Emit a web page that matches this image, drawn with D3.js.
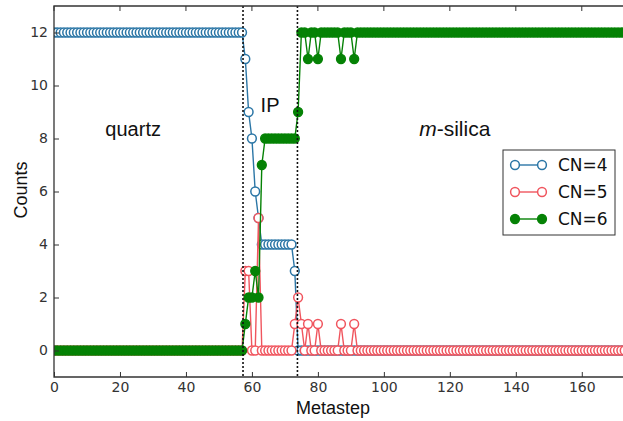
<!DOCTYPE html>
<html>
<head>
<meta charset="utf-8">
<script src="https://cdn.jsdelivr.net/npm/d3@7"></script>
<style>
  body { margin: 0; background: #fff; }
</style>
</head>
<body>
<svg id="canvas" width="623" height="421"></svg>
<script>
const svg = d3.select("#canvas");

// each run is [fromStep, toStep, count]
const cn4Runs = [[0, 57, 12], [58, 58, 11], [59, 59, 9], [60, 60, 8], [61, 61, 6], [62, 62, 5],
    [63, 72, 4], [73, 73, 3], [74, 173, 0]];
const cn5Runs = [[0, 57, 0], [58, 59, 3], [60, 61, 0], [62, 62, 5], [63, 72, 0], [73, 73, 1],
    [74, 74, 2], [75, 75, 1], [76, 76, 0], [77, 77, 1], [78, 79, 0], [80, 80, 1], [81, 86, 0],
    [87, 87, 1], [88, 90, 0], [91, 91, 1], [92, 173, 0]];
const cn6Runs = [[0, 57, 0], [58, 58, 1], [59, 60, 2], [61, 61, 3], [62, 62, 2], [63, 63, 7],
    [64, 73, 8], [74, 74, 9], [75, 76, 12], [77, 77, 11], [78, 79, 12], [80, 80, 11], [81, 86, 12],
    [87, 87, 11], [88, 90, 12], [91, 91, 11], [92, 173, 12]];

const seriesNames = ["CN=4", "CN=5", "CN=6"];
const xTicks = [0, 20, 40, 60, 80, 100, 120, 140, 160];
const yTicks = [0, 2, 4, 6, 8, 10, 12];
const boundaries = [57.3, 73.8];
const phaseLabels = [
    { text: "quartz", step: 24, count: 8.1 },
    { text: "IP", step: 65.5, count: 9.0 },
    { text: "-silica", prefix: "m", step: 121.5, count: 8.1 }
];

const colors = {
    "CN=4": "#2b76a6",
    "CN=5": "#f0555e",
    "CN=6": "#058205"
};

const plotLeft = 54, plotRight = 625, plotTop = 6, plotBottom = 377;
const markerR = 4.4;

const x = d3.scaleLinear().domain([0, 173.1]).range([plotLeft, plotRight]);
const y = d3.scaleLinear().domain([-1, 13]).range([plotBottom, plotTop]);

function expand(runs) {
    return runs.flatMap(([a, b, v]) => d3.range(a, b + 1).map(s => ({ step: s, count: v })));
}

const series = [
    { name: seriesNames[0], points: expand(cn4Runs), filled: false },
    { name: seriesNames[1], points: expand(cn5Runs), filled: false },
    { name: seriesNames[2], points: expand(cn6Runs), filled: true }
];

svg.append("defs").append("clipPath")
    .attr("id", "plotClip")
    .append("rect")
    .attr("x", plotLeft)
    .attr("y", plotTop)
    .attr("width", plotRight - plotLeft)
    .attr("height", plotBottom - plotTop);

const plot = svg.append("g").attr("clip-path", "url(#plotClip)");

const line = d3.line()
    .x(d => x(d.step))
    .y(d => y(d.count));

series.forEach(s => {
    const g = plot.append("g");
    g.append("path")
        .datum(s.points)
        .attr("d", line)
        .attr("fill", "none")
        .attr("stroke", colors[s.name])
        .attr("stroke-width", 1.4);

    g.selectAll("circle")
        .data(s.points)
        .enter()
        .append("circle")
        .attr("cx", d => x(d.step))
        .attr("cy", d => y(d.count))
        .attr("r", markerR)
        .attr("fill", s.filled ? colors[s.name] : "#fff")
        .attr("stroke", colors[s.name])
        .attr("stroke-width", 1.5);
});

// phase boundaries
svg.selectAll("line.boundary")
    .data(boundaries)
    .enter()
    .append("line")
    .attr("class", "boundary")
    .attr("x1", d => x(d))
    .attr("x2", d => x(d))
    .attr("y1", plotTop)
    .attr("y2", plotBottom)
    .attr("stroke", "#111")
    .attr("stroke-width", 1.6)
    .attr("stroke-dasharray", "2,2");

// axes with inward ticks
const xAxis = d3.axisBottom(x).tickValues(xTicks).tickSize(-5).tickPadding(5);
const yAxis = d3.axisLeft(y).tickValues(yTicks).tickSize(-5).tickPadding(6);

const gx = svg.append("g").attr("transform", `translate(0,${plotBottom})`).call(xAxis);
const gy = svg.append("g").attr("transform", `translate(${plotLeft},0)`).call(yAxis);

[gx, gy].forEach(g => {
    g.select(".domain").remove();
    g.selectAll(".tick line").attr("stroke", "#333").attr("stroke-width", 1);
    g.selectAll(".tick text")
        .attr("font-family", "DejaVu Sans, sans-serif")
        .attr("font-size", "14px")
        .attr("fill", "#333");
});

// top ticks
svg.selectAll("line.topTick")
    .data(xTicks)
    .enter()
    .append("line")
    .attr("x1", d => x(d))
    .attr("x2", d => x(d))
    .attr("y1", plotTop)
    .attr("y2", plotTop + 5)
    .attr("stroke", "#333");

// frame
svg.append("path")
    .attr("d", `M${plotRight},${plotTop}H${plotLeft}V${plotBottom}H${plotRight}`)
    .attr("fill", "none")
    .attr("stroke", "#333")
    .attr("stroke-width", 1.3);

// axis labels
svg.append("text")
    .attr("transform", `translate(27,190) rotate(-90)`)
    .attr("text-anchor", "middle")
    .attr("font-family", "Liberation Sans, Arial, sans-serif")
    .attr("font-size", "18px")
    .attr("fill", "#111")
    .text("Counts");

svg.append("text")
    .attr("x", 333)
    .attr("y", 414)
    .attr("text-anchor", "middle")
    .attr("font-family", "Liberation Sans, Arial, sans-serif")
    .attr("font-size", "18px")
    .attr("fill", "#111")
    .text("Metastep");

// phase labels
phaseLabels.forEach(p => {
    const t = svg.append("text")
        .attr("x", x(p.step))
        .attr("y", y(p.count))
        .attr("text-anchor", "middle")
        .attr("font-family", "Liberation Sans, Arial, sans-serif")
        .attr("font-size", p.prefix ? "21px" : "20px")
        .attr("fill", "#111");
    if (p.prefix) {
        t.append("tspan").attr("font-style", "italic").text(p.prefix);
    }
    t.append("tspan").text(p.text);
});

// legend
const legend = svg.append("g");
legend.append("rect")
    .attr("x", 503)
    .attr("y", 150)
    .attr("width", 112)
    .attr("height", 85)
    .attr("fill", "#fff")
    .attr("stroke", "#333")
    .attr("stroke-width", 1);

series.forEach((s, i) => {
    const ly = 165 + i * 27;
    legend.append("line")
        .attr("x1", 515)
        .attr("x2", 542)
        .attr("y1", ly)
        .attr("y2", ly)
        .attr("stroke", colors[s.name])
        .attr("stroke-width", 1.4);
    [515, 542].forEach(cx => {
        legend.append("circle")
            .attr("cx", cx)
            .attr("cy", ly)
            .attr("r", markerR)
            .attr("fill", s.filled ? colors[s.name] : "#fff")
            .attr("stroke", colors[s.name])
            .attr("stroke-width", 1.5);
    });
    legend.append("text")
        .attr("x", 558)
        .attr("y", ly + 6)
        .attr("font-family", "DejaVu Sans, sans-serif")
        .attr("font-size", "17px")
        .attr("fill", "#111")
        .text(s.name);
});
</script>
</body>
</html>
